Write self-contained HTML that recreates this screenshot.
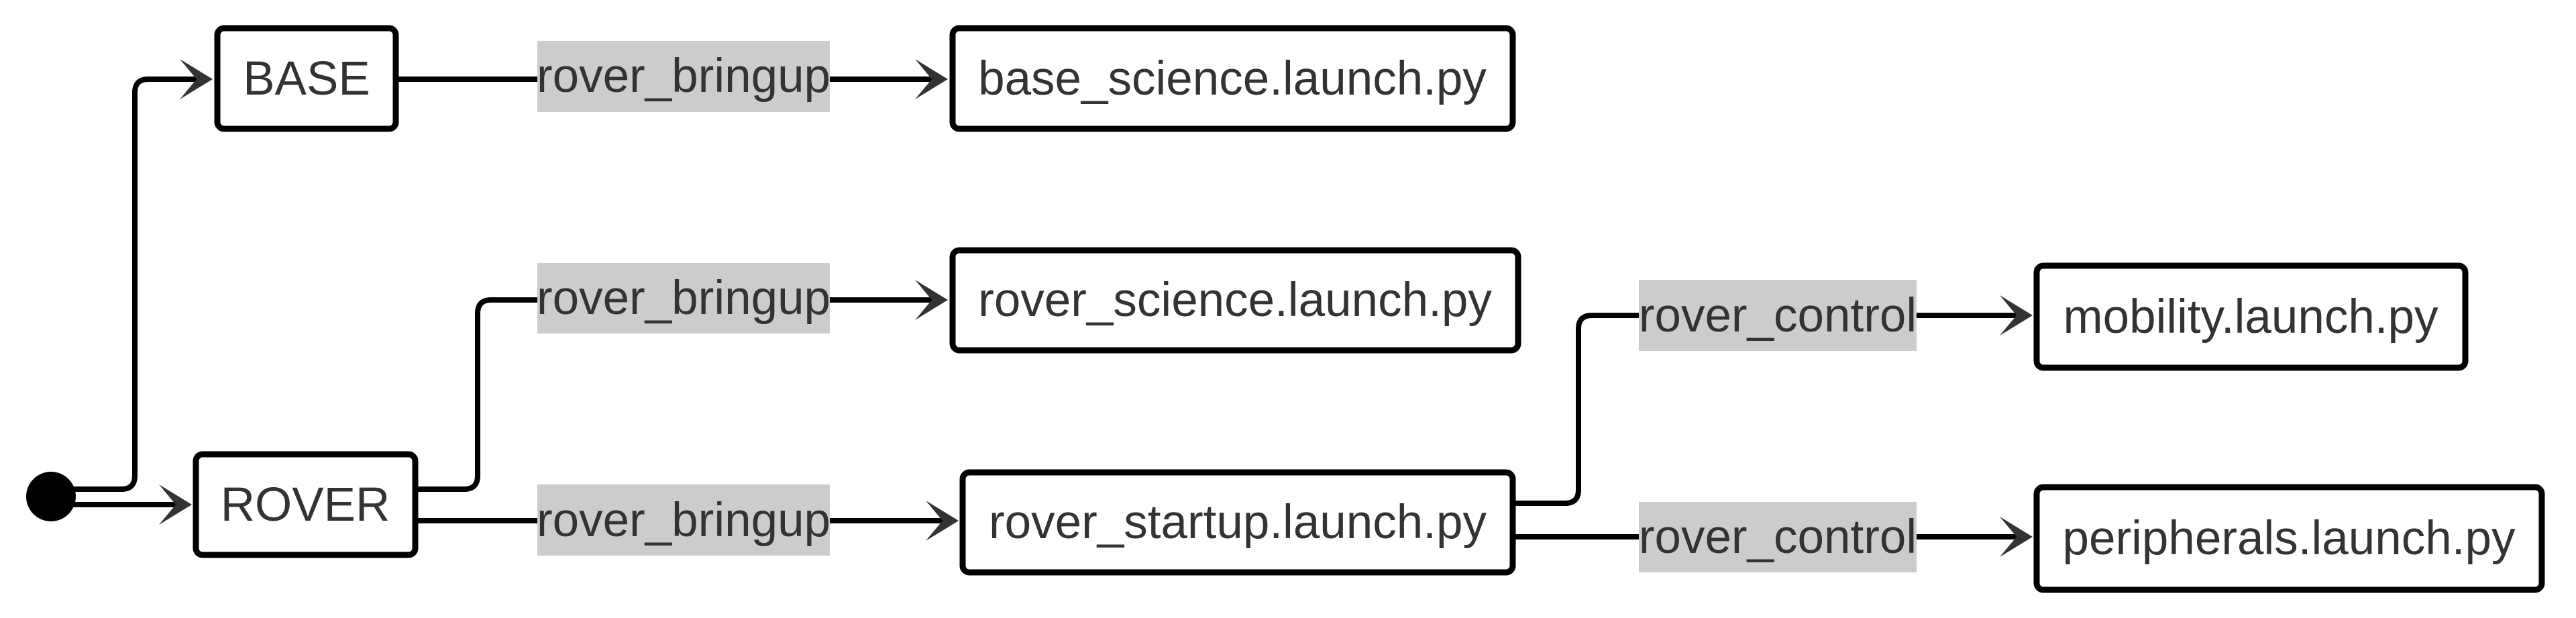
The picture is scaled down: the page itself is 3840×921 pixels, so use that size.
<!DOCTYPE html>
<html><head><meta charset="utf-8"><style>html,body{margin:0;padding:0;background:#fff}svg{display:block}</style></head>
<body>
<svg width="3840" height="921" viewBox="0 0 3840 921" xmlns="http://www.w3.org/2000/svg">
<defs>
<g id="ah"><path d="M0 0 L-49 -30 L-24 0 L-49 30 Z" fill="#333"/></g>
</defs>
<g fill="none" stroke="#000" stroke-width="8" stroke-linejoin="round">
<path d="M76 729 L181 729 Q201 729 201 709 L201 138 Q201 118 221 118 L300 118"/>
<path d="M76 752 L270 752"/>
<path d="M593 118 L1395 118"/>
<path d="M622 729 L692 729 Q712 729 712 709 L712 467 Q712 447 732 447 L1395 447"/>
<path d="M622 776 L1410 776"/>
<path d="M2258 750 L2333 750 Q2353 750 2353 730 L2353 490 Q2353 470 2373 470 L3012 470"/>
<path d="M2258 800 L3012 800"/>
</g>
<circle cx="76" cy="740" r="37" fill="#000"/>
<g fill="#ccc">
<rect x="801" y="61" width="436" height="106"/>
<rect x="801" y="392" width="436" height="105"/>
<rect x="801" y="722" width="436" height="106"/>
<rect x="2443" y="417" width="414" height="106"/>
<rect x="2443" y="748" width="414" height="105"/>
</g>
<use href="#ah" transform="translate(317,118)"/>
<use href="#ah" transform="translate(286,752)"/>
<use href="#ah" transform="translate(1413,118)"/>
<use href="#ah" transform="translate(1413,447)"/>
<use href="#ah" transform="translate(1429,776)"/>
<use href="#ah" transform="translate(3030,470)"/>
<use href="#ah" transform="translate(3030,800)"/>
<g fill="#fff" stroke="#000" stroke-width="9">
<rect x="324" y="42" width="266" height="150" rx="10"/>
<rect x="292" y="677" width="327" height="150" rx="10"/>
<rect x="1420" y="42" width="835" height="150" rx="10"/>
<rect x="1420" y="373" width="843" height="149" rx="10"/>
<rect x="1435" y="704" width="820" height="149" rx="10"/>
<rect x="3036" y="396" width="639" height="152" rx="10"/>
<rect x="3036" y="726" width="753" height="153" rx="10"/>
</g>
<g font-family="'Liberation Sans', Arial, sans-serif" font-size="71" fill="#333" text-anchor="middle">
<text x="457" y="141">BASE</text>
<text x="455" y="776">ROVER</text>
<text x="1837" y="141">base_science.launch.py</text>
<text x="1841" y="471">rover_science.launch.py</text>
<text x="1845" y="802">rover_startup.launch.py</text>
<text x="3355" y="496">mobility.launch.py</text>
<text x="3412" y="826">peripherals.launch.py</text>
<text x="1019" y="137">rover_bringup</text>
<text x="1019" y="468">rover_bringup</text>
<text x="1019" y="799">rover_bringup</text>
<text x="2650" y="494">rover_control</text>
<text x="2650" y="824">rover_control</text>
</g>
</svg>
</body></html>
